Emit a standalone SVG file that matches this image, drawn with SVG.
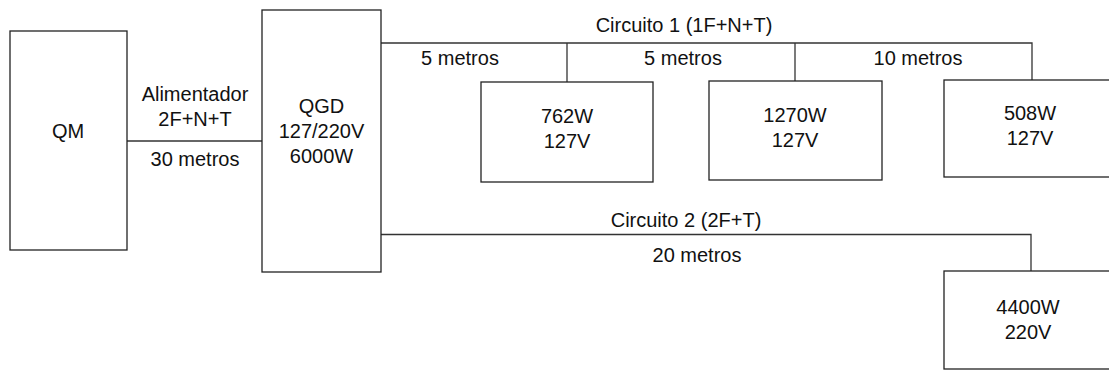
<svg xmlns="http://www.w3.org/2000/svg" width="1109" height="370" viewBox="0 0 1109 370">
<style>
.box{fill:#fff;stroke:#222;stroke-width:1.3}
.wire{fill:none;stroke:#333;stroke-width:1.3}
text{font-family:"Liberation Sans",Arial,sans-serif;font-size:20px;fill:#111;text-anchor:middle}
</style>
<rect width="1109" height="370" fill="#fff"/>
<g id="connectors">
<path class="wire" d="M127,141 H262"/>
<path class="wire" d="M381,43 H1032 V80"/>
<path class="wire" d="M567,43 V82"/>
<path class="wire" d="M795,43 V81"/>
<path class="wire" d="M381,234.5 H1031 V271"/>
<text x="195" y="101">Alimentador</text>
<text x="195" y="126">2F+N+T</text>
<text x="195" y="166">30 metros</text>
<text x="684" y="32">Circuito 1 (1F+N+T)</text>
<text x="460" y="65">5 metros</text>
<text x="683" y="65">5 metros</text>
<text x="918" y="65">10 metros</text>
<text x="686" y="227">Circuito 2 (2F+T)</text>
<text x="697" y="262">20 metros</text>
</g>
<g id="QM">
<rect class="box" x="10" y="31" width="117" height="219"/>
<text x="68" y="138">QM</text>
</g>
<g id="QGD">
<rect class="box" x="262" y="10" width="119" height="262"/>
<text x="321.5" y="113">QGD</text>
<text x="321.5" y="138">127/220V</text>
<text x="321.5" y="163">6000W</text>
</g>
<g id="load762">
<rect class="box" x="481" y="82" width="172" height="100"/>
<text x="567" y="123">762W</text>
<text x="567" y="148">127V</text>
</g>
<g id="load1270">
<rect class="box" x="709" y="81" width="173" height="99"/>
<text x="795" y="122">1270W</text>
<text x="795" y="147">127V</text>
</g>
<g id="load508">
<rect class="box" x="944" y="80" width="172" height="97"/>
<text x="1030" y="120">508W</text>
<text x="1030" y="145">127V</text>
</g>
<g id="load4400">
<rect class="box" x="944" y="271" width="172" height="98"/>
<text x="1028" y="314">4400W</text>
<text x="1028" y="339">220V</text>
</g>
</svg>
